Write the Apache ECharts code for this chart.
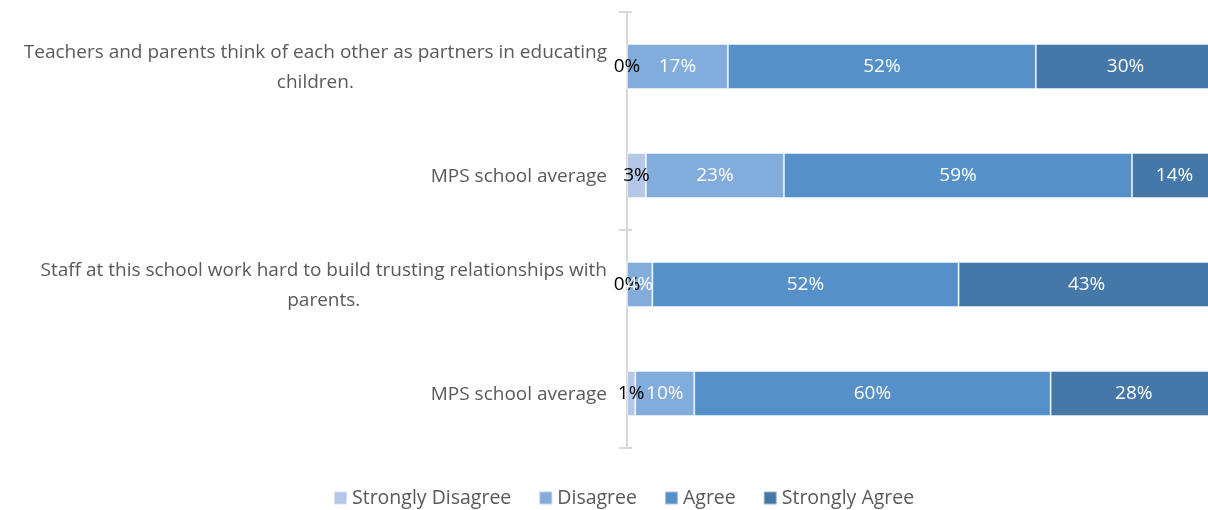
<!DOCTYPE html>
<html><head><meta charset="utf-8">
<script src="https://cdn.jsdelivr.net/npm/echarts@6/dist/echarts.min.js"></script>
<style>html,body{margin:0;padding:0;background:#fff;overflow:hidden;width:1208px;height:510px}#c{width:1217px;height:510px}</style>
</head><body><div id="c"></div>
<script>
var categories = [
  'Teachers and parents think of each other as partners in educating\nchildren.',
  'MPS school average',
  'Staff at this school work hard to build trusting relationships with\nparents.',
  'MPS school average'
];
var seriesNames = ['Strongly Disagree', 'Disagree', 'Agree', 'Strongly Agree'];
var stronglyDisagree = [0, 3.2, 0, 1.4];
var disagree = [17.1, 23.4, 4.3, 10.0];
var agree = [52.2, 59.0, 51.9, 60.4];
var stronglyAgree = [30.4, 14.4, 43.4, 28.2];
var colors = ['#b4c7e7', '#82acdc', '#5591c8', '#4577a7'];
var labelColors = ['#000000', '#ffffff', '#ffffff', '#ffffff'];
var FONT = 'Open Sans';

var chart = echarts.init(document.getElementById('c'), null, {renderer: 'canvas'});
var values = [stronglyDisagree, disagree, agree, stronglyAgree];
var series = seriesNames.map(function (n, i) {
  return {
    name: n, type: 'bar', stack: 'all', yAxisIndex: 0, barWidth: 45,
    data: values[i],
    itemStyle: {color: colors[i], borderColor: 'rgba(255,255,255,0.45)', borderWidth: 1},
    label: {show: true, position: 'inside', color: labelColors[i], fontFamily: FONT, fontSize: 19,
      formatter: function (p) { return Math.round(p.value) + '%'; }},
    emphasis: {disabled: true}
  };
});
chart.setOption({
  animation: false,
  color: colors,
  grid: {left: 627, right: 0, top: 12, bottom: 62, containLabel: false},
  xAxis: {type: 'value', min: 0, max: 100, show: false},
  yAxis: [
    {type: 'category', inverse: true, data: categories,
      axisLine: {show: true, lineStyle: {color: '#d9d9d9', width: 2}},
      axisTick: {show: false},
      axisLabel: {margin: 20, color: '#595959', fontFamily: FONT, fontSize: 19, lineHeight: 30,
        formatter: function (v) { return v.split('\n').map(function (l) { return '{c|' + l + '}'; }).join('\n'); },
        rich: {c: {align: 'center', color: '#595959', fontFamily: FONT, fontSize: 19, lineHeight: 30, padding: [3, 0, 0, 0]}}}},
    {type: 'category', data: ['g1', 'g2'], position: 'left',
      axisLine: {show: false}, axisLabel: {show: false},
      axisTick: {show: true, length: 8, lineStyle: {color: '#d9d9d9', width: 2}}},
    {type: 'category', data: ['g1', 'g2'], position: 'left',
      axisLine: {show: false}, axisLabel: {show: false},
      axisTick: {show: true, inside: true, length: 5, lineStyle: {color: '#d9d9d9', width: 2}}}
  ],
  legend: {data: seriesNames, left: 333, top: 488, padding: 0, itemWidth: 13, itemHeight: 13, itemGap: 27,
    icon: 'rect', textStyle: {color: '#595959', fontFamily: FONT, fontSize: 19.5}},
  series: series
});
</script></body></html>
